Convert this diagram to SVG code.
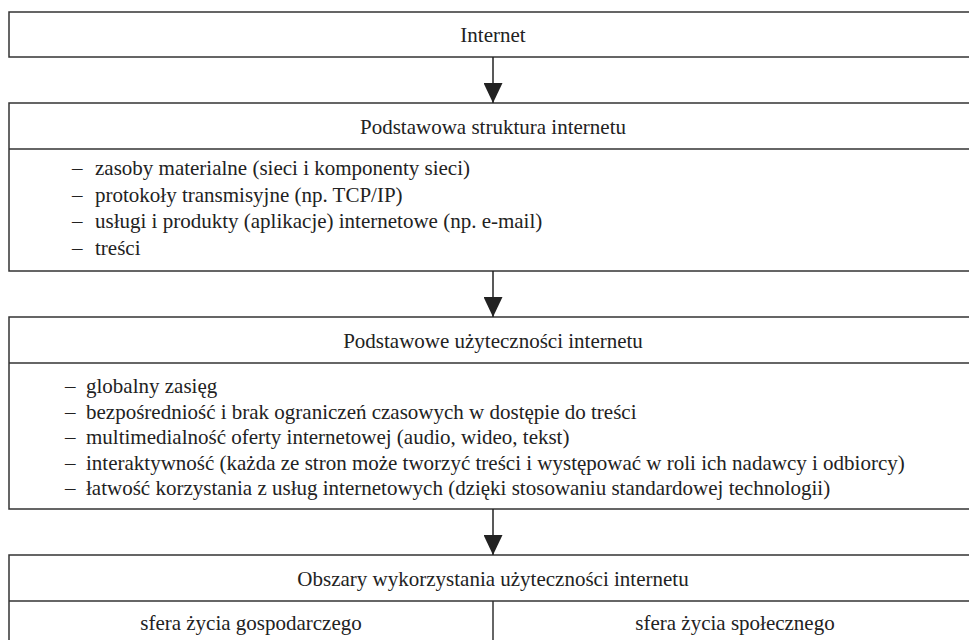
<svg xmlns="http://www.w3.org/2000/svg" width="969" height="640" viewBox="0 0 969 640">
  <style>
    .box { fill: #ffffff; stroke: #333333; stroke-width: 1.5; }
    .rule { stroke: #333333; stroke-width: 1.5; fill: none; }
    .txt { font-family: "Liberation Serif", "Times New Roman", serif; font-size: 21px; fill: #222222; }
    .mid { text-anchor: middle; }
    .link { stroke: #222222; stroke-width: 1.5; fill: none; marker-end: url(#head); }
  </style>
  <defs>
    <marker id="head" viewBox="0 0 20 19" markerWidth="20" markerHeight="19" refX="20" refY="9.5" orient="auto" markerUnits="userSpaceOnUse">
      <path d="M0,0 L20,9.5 L0,19 Z" fill="#222222"/>
    </marker>
  </defs>
  <rect width="969" height="640" fill="#ffffff"/>

  <!-- top node -->
  <g id="internet">
    <rect class="box" x="9" y="12" width="968" height="45"/>
    <text class="txt mid" x="493" y="42">Internet</text>
  </g>

  <!-- basic structure: title band + bullet list -->
  <g id="struktura">
    <rect class="box" x="9" y="103" width="968" height="168"/>
    <line class="rule" x1="9" y1="149" x2="977" y2="149"/>
    <text class="txt mid" x="493" y="133.5">Podstawowa struktura internetu</text>
    <g class="txt">
      <text x="72" y="175">–</text><text x="95" y="175">zasoby materialne (sieci i komponenty sieci)</text>
      <text x="72" y="201.5">–</text><text x="95" y="201.5">protokoły transmisyjne (np. TCP/IP)</text>
      <text x="72" y="228">–</text><text x="95" y="228">usługi i produkty (aplikacje) internetowe (np. e-mail)</text>
      <text x="72" y="254.5">–</text><text x="95" y="254.5">treści</text>
    </g>
  </g>

  <!-- basic utilities: title band + bullet list -->
  <g id="uzytecznosci">
    <rect class="box" x="9" y="317" width="968" height="192"/>
    <line class="rule" x1="9" y1="363" x2="977" y2="363"/>
    <text class="txt mid" x="493" y="347.5">Podstawowe użyteczności internetu</text>
    <g class="txt">
      <text x="65" y="393">–</text><text x="86" y="393">globalny zasięg</text>
      <text x="65" y="418.5">–</text><text x="86" y="418.5">bezpośredniość i brak ograniczeń czasowych w dostępie do treści</text>
      <text x="65" y="444">–</text><text x="86" y="444">multimedialność oferty internetowej (audio, wideo, tekst)</text>
      <text x="65" y="469.5">–</text><text x="86" y="469.5">interaktywność (każda ze stron może tworzyć treści i występować w roli ich nadawcy i odbiorcy)</text>
      <text x="65" y="495">–</text><text x="86" y="495">łatwość korzystania z usług internetowych (dzięki stosowaniu standardowej technologii)</text>
    </g>
  </g>

  <!-- areas of use: title band split into two columns -->
  <g id="obszary">
    <rect class="box" x="9" y="555" width="968" height="100"/>
    <line class="rule" x1="9" y1="601" x2="977" y2="601"/>
    <line class="rule" x1="493" y1="601" x2="493" y2="655"/>
    <text class="txt mid" x="493" y="585.5">Obszary wykorzystania użyteczności internetu</text>
    <text class="txt mid" x="251" y="630">sfera życia gospodarczego</text>
    <text class="txt mid" x="735" y="630">sfera życia społecznego</text>
  </g>

  <g id="connectors">
    <line class="link" x1="493" y1="57" x2="493" y2="103"/>
    <line class="link" x1="493" y1="271" x2="493" y2="317"/>
    <line class="link" x1="493" y1="509" x2="493" y2="555"/>
  </g>
</svg>
